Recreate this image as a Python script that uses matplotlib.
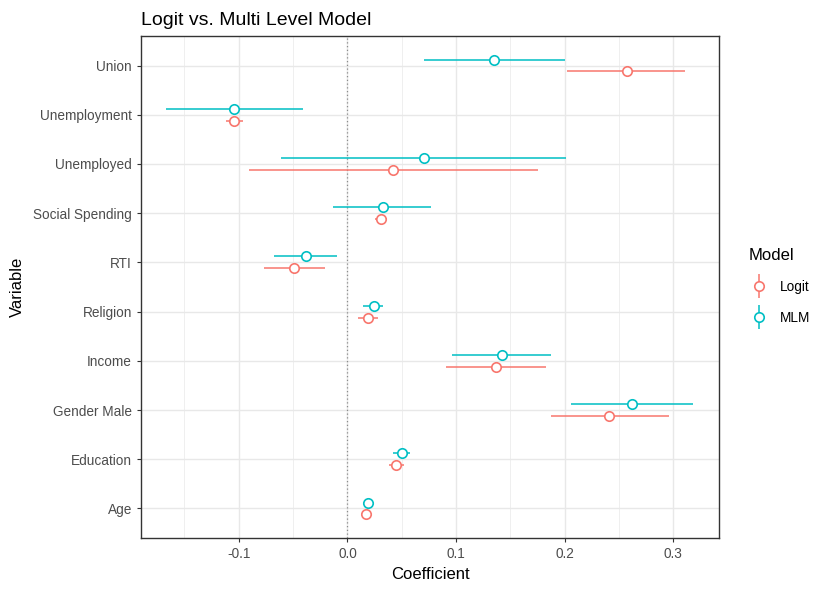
import matplotlib
matplotlib.use("Agg")
from matplotlib import pyplot as plt
from matplotlib.lines import Line2D
import numpy as np

plt.rcParams['font.family'] = ['Liberation Sans', 'DejaVu Sans']

variables = ["Age", "Education", "Gender Male", "Income", "Religion",
             "RTI", "Social Spending", "Unemployed", "Unemployment", "Union"]

logit_est = [0.017, 0.045, 0.241, 0.137, 0.019, -0.049, 0.031, 0.042, -0.104, 0.257]
logit_lo = [0.015, 0.038, 0.187, 0.091, 0.010, -0.077, 0.025, -0.091, -0.112, 0.202]
logit_hi = [0.019, 0.052, 0.296, 0.183, 0.028, -0.021, 0.036, 0.175, -0.096, 0.311]

mlm_est = [0.019, 0.050, 0.262, 0.142, 0.024, -0.038, 0.033, 0.070, -0.104, 0.135]
mlm_lo = [0.017, 0.042, 0.206, 0.096, 0.014, -0.068, -0.013, -0.061, -0.167, 0.070]
mlm_hi = [0.021, 0.058, 0.318, 0.187, 0.033, -0.010, 0.077, 0.201, -0.041, 0.200]

models = ["Logit", "MLM"]
colors = ["#F8766D", "#00BFC4"]

fig = plt.figure(figsize=(8.18, 5.90), dpi=100)
ax = fig.add_axes([0.1724, 0.0881, 0.7066, 0.8509])

ypos = np.arange(1, len(variables) + 1)
dodge = 0.12

series = [(logit_est, logit_lo, logit_hi, -dodge), (mlm_est, mlm_lo, mlm_hi, dodge)]
for (est, lo, hi, off), col in zip(series, colors):
    y = ypos + off
    ax.hlines(y, lo, hi, color=col, lw=1.1, zorder=3)
    ax.plot(est, y, 'o', ms=6.8, mfc='white', mec=col, mew=1.2, zorder=4)

ax.axvline(0, color='#8C8C8C', lw=0.9, ls=(0, (1, 2)), zorder=2)

ax.set_xlim(-0.190, 0.342)
ax.set_ylim(0.4, 10.6)
ax.set_xticks([-0.1, 0.0, 0.1, 0.2, 0.3])
ax.set_xticklabels(["-0.1", "0.0", "0.1", "0.2", "0.3"])
ax.set_xticks([-0.15, -0.05, 0.05, 0.15, 0.25], minor=True)
ax.set_yticks(ypos)
ax.set_yticklabels(variables)

ax.grid(True, which='major', color='#E8E8E8', lw=1.0, zorder=0)
ax.grid(True, which='minor', axis='x', color='#EDEDED', lw=0.6, zorder=0)
ax.set_axisbelow(True)
for s in ax.spines.values():
    s.set_color('#333333')
    s.set_linewidth(1.0)
ax.tick_params(which='major', colors='#333333', labelcolor='#4D4D4D',
               labelsize=9.8, length=3, width=0.8)
ax.tick_params(which='minor', length=0)

ax.set_xlabel("Coefficient", fontsize=12, labelpad=4)
ax.set_ylabel("Variable", fontsize=12, labelpad=6)
ax.set_title("Logit vs. Multi Level Model", loc='left', fontsize=14, pad=8)

handles = []
for col in colors:
    vline = Line2D([], [], marker='|', ms=17, mew=1.1, color=col, ls='none')
    circ = Line2D([], [], marker='o', ms=6.8, mfc='white', mec=col, mew=1.2, ls='none')
    handles.append((vline, circ))
leg = fig.legend(handles, models, title="Model", loc='center left',
                 bbox_to_anchor=(0.9, 0.515), frameon=False, fontsize=9.8,
                 title_fontsize=12, alignment='left', handlelength=1.5,
                 labelspacing=1.25, handletextpad=0.8)

fig.savefig("out.png", dpi=100)
